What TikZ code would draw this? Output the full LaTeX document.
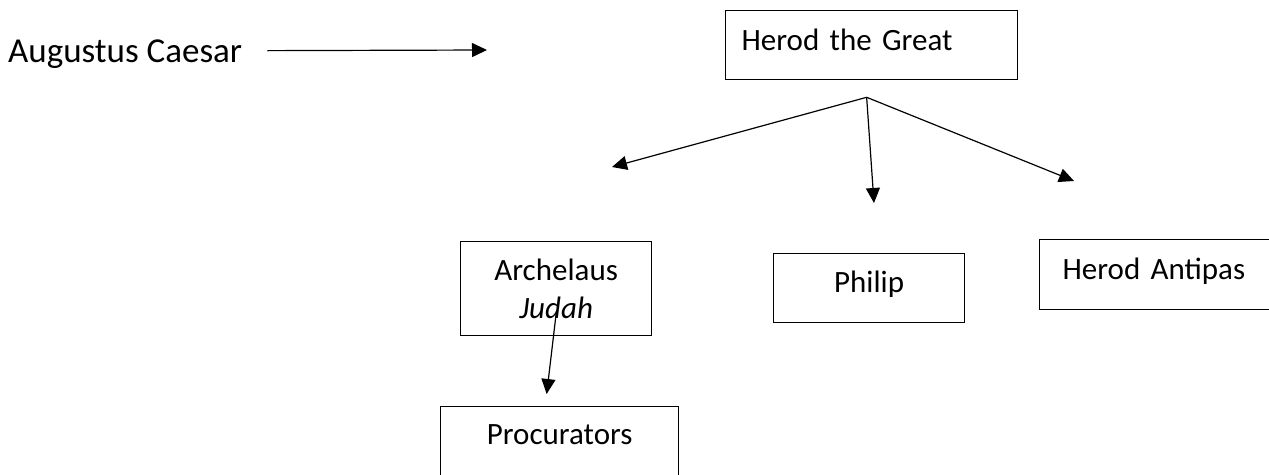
\documentclass[tikz,border=0pt]{standalone}
\usepackage{fontspec}
\setmainfont{Carlito}
\usetikzlibrary{positioning, arrows.meta}

\begin{document}
\begin{tikzpicture}[
        x=1pt, y=-1pt,
        % testo come nel documento originale
        every node/.style={font=\fontsize{31}{38}\selectfont},
        % riquadri con bordo sottile
        box/.style={draw, line width=1.3pt, anchor=north west, inner ysep=0pt, inner xsep=16pt},
        % frecce con punta piena
        arrow/.style={-{Triangle[length=15pt, width=14pt]}, line width=1.2pt}
    ]
    \useasboundingbox (0,0) rectangle (1269,474);
    \clip (0,0) rectangle (1269,474);

    % --- Augustus ---
    \node[anchor=base west, inner sep=0pt, font=\fontsize{35}{42}\selectfont] (augustus) at (8,62) {Augustus Caesar};
    \coordinate (augustus_tip) at (487,50);
    \draw[arrow] ([xshift=25pt, yshift=3pt]augustus.east) -- (augustus_tip);

    % --- Herod the Great ---
    \node[box, text width=260pt, align=left, text height=40pt, text depth=29pt] (great) at (725,10) {Herod the Great};

    % --- Figli ---
    \node[box, inner xsep=0pt, minimum width=191pt, minimum height=94pt, align=center] (archelaus) at (460,241) {Archelaus\\\textit{Judah}};
    \node[box, text width=159pt, align=center, text height=39pt, text depth=30pt] (philip) at (773,253) {Philip};
    \node[box, inner xsep=23pt, text width=250pt, align=left, text height=40pt, text depth=30pt] (antipas) at (1039,239) {Herod Antipas};

    % --- Procurators ---
    \node[box, text width=206pt, align=center, text height=38pt, text depth=76pt] (procurators) at (440,406) {Procurators};

    % --- Frecce dal padre ---
    \coordinate (fork) at ([xshift=-5pt, yshift=-17pt]great.south);
    \coordinate (left_tip) at (612,167);
    \coordinate (mid_tip) at (874,203);
    \coordinate (right_tip) at (1074,181);
    \draw[arrow] (fork) -- (left_tip);
    \draw[arrow] (fork) -- (mid_tip);
    \draw[arrow] (fork) -- (right_tip);

    % Archelaus -> Procurators
    \draw[arrow] ([yshift=-25pt]archelaus.center) -- ([xshift=-13pt, yshift=12pt]procurators.north);

\end{tikzpicture}
\end{document}
